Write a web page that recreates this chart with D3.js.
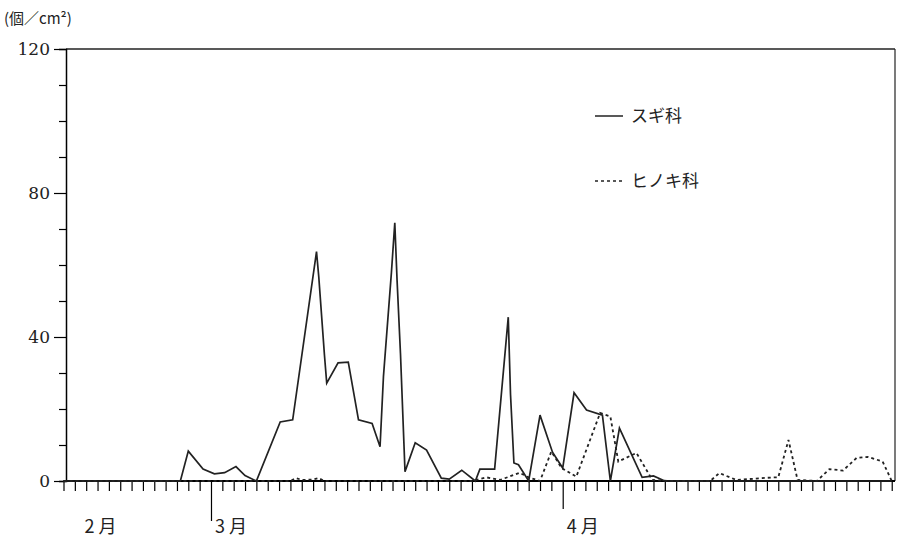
<!DOCTYPE html>
<html><head><meta charset="utf-8">
<script src="https://cdn.jsdelivr.net/npm/d3@7"></script>
<style>body{margin:0;background:#fff}text{fill:#222}</style>
</head><body><svg id="c" width="897" height="543"></svg>
<script>
// day index: 0 = Feb 16, 13 = Mar 1, 44 = Apr 1
const sugiDays = [0,10.3,11,12.3,13.3,14.2,15.2,16,17,19.1,20.2,22.3,22.5,23,23.2,24.2,25.1,26,27.2,27.9,28.2,28.9,29.2,29.4,29.7,30.1,31,32,33.3,34,35.1,36.3,36.7,38,39.2,39.4,39.7,40.1,41,42,43.1,44,45,46.1,47.5,48.2,49,51,52,53,54,73];
const sugiVals = [0,0,8.3,3.3,2,2.3,4,1.5,0,16.4,17,63.7,56.7,35,27.2,32.8,33,17,16,9.5,29,57.8,71.7,55.8,35.5,2.6,10.6,8.6,0.8,0.5,3,0,3.3,3.3,45.5,24,5,4.5,0,18.3,8,3.6,24.5,19.7,18.3,0,14.7,1,1.4,0,0,0];
const hinoDays = [0,20,20.5,21,22,22.5,23,24,36,37.3,38.5,40.2,41,42,43,43.9,45.2,47.3,48.2,48.9,50.5,51.9,53.3,57,57.8,59.3,62.5,63,63.9,64.7,66.4,67.5,68.7,69.9,70.9,72.2,73];
const hinoVals = [0,0,0.8,0.3,0.4,0.8,0,0,0,1,0.3,2.3,1,0,8.2,3.6,1.2,18.9,17.9,5.4,7.8,0.3,0,0,2.2,0.3,1,1,11.4,0.3,0,3.3,2.9,6.4,6.7,5.4,0];
const yTicks = [0,40,80,120];
const months = [{label:"2 月",day:1.5},{label:"3 月",day:13},{label:"4 月",day:44}];
const legend = [{label:"スギ科",dash:null},{label:"ヒノキ科",dash:"3,3"}];

const svg = d3.select("#c");
const x = d3.scaleLinear().domain([0,73.2]).range([63.5,894]);
const y = d3.scaleLinear().domain([0,120]).range([481,49]);
const serif = "'DejaVu Serif','Liberation Serif',serif";
const jp = "'Noto Sans CJK JP',sans-serif";

svg.append("line").attr("x1",66).attr("x2",895).attr("y1",y(120)).attr("y2",y(120)).attr("stroke","#222").attr("stroke-width",1.5);
svg.append("line").attr("x1",895).attr("x2",895).attr("y1",y(120)).attr("y2",y(0)).attr("stroke","#222").attr("stroke-width",1.2);
const ya = svg.append("g").attr("transform","translate(66,0)")
  .call(d3.axisLeft(y).tickValues(d3.range(0,121,10)).tickSize(7).tickFormat(d=>yTicks.includes(d)?d:""));
ya.select(".domain").attr("stroke-width",1.5);
ya.selectAll("line").attr("stroke-width",1.2);
ya.selectAll("text").attr("font-family",serif).attr("font-size",17).attr("dx",-6);
ya.selectAll(".tick").filter(d=>yTicks.includes(d)).select("line").attr("x2",-12);
const xa = svg.append("g").attr("transform","translate(0,"+y(0)+")")
  .call(d3.axisBottom(x).tickValues(d3.range(0,74)).tickSize(10).tickFormat(""));
xa.select(".domain").attr("stroke-width",1.8).attr("d","M63.5,0H895");
xa.selectAll("line").attr("stroke-width",1.2);
xa.selectAll(".tick").filter(d=>d===13).select("line").attr("y2",40);
xa.selectAll(".tick").filter(d=>d===44).select("line").attr("y2",28);
svg.selectAll(".mon").data(months).enter().append("text")
  .attr("x",d=>x(d.day)+20).attr("y",533).attr("text-anchor","middle")
  .attr("font-family",jp).attr("font-size",18).text(d=>d.label);
svg.append("text").attr("x",4).attr("y",24).attr("font-family",jp).attr("font-size",15).text("(個／cm²)");

const line = d3.line().x(d=>x(d[0])).y(d=>y(d[1]));
svg.append("path").datum(d3.zip(sugiDays,sugiVals)).attr("d",line).attr("fill","none").attr("stroke","#222").attr("stroke-width",1.7);
svg.append("path").datum(d3.zip(hinoDays,hinoVals)).attr("d",line).attr("fill","none").attr("stroke","#222").attr("stroke-width",1.8).attr("stroke-dasharray","3,3");

const lg = svg.selectAll(".lg").data(legend).enter().append("g").attr("transform",(d,i)=>"translate(595,"+(116+i*65)+")");
lg.append("line").attr("x1",0).attr("x2",28).attr("stroke","#222").attr("stroke-width",1.5).attr("stroke-dasharray",d=>d.dash);
lg.append("text").attr("x",36).attr("y",6).attr("font-family",jp).attr("font-size",17).text(d=>d.label);
</script></body></html>
